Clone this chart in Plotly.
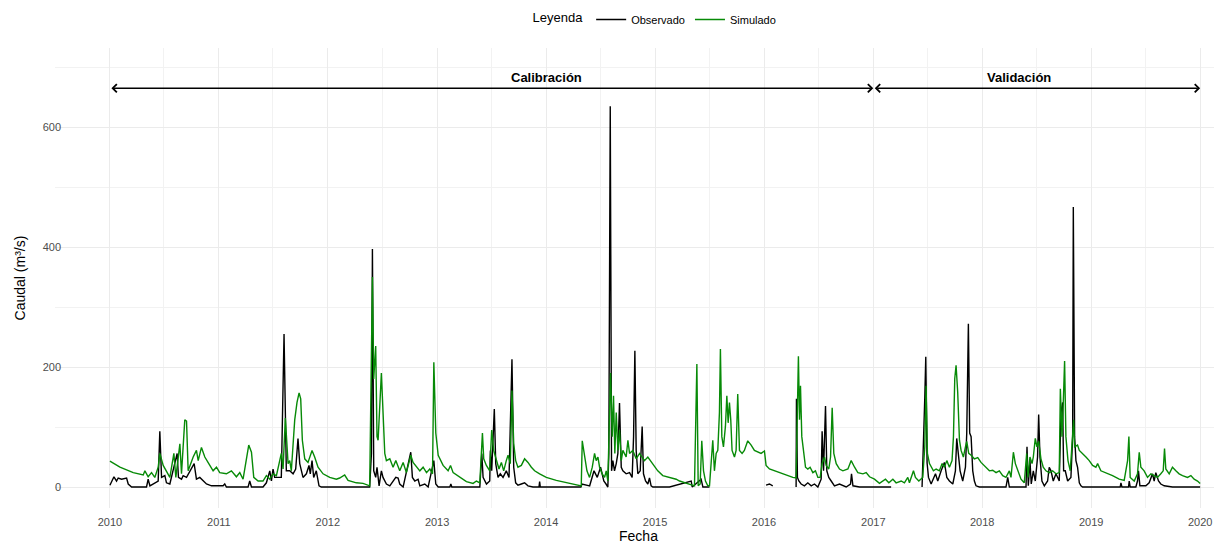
import pandas as pd
import plotly.graph_objects as go

# fechas en año decimal, caudales en m3/s (None = sin dato)
obs_t = [2010.00, 2010.015, 2010.037, 2010.061, 2010.076, 2010.107, 2010.153, 2010.168, 2010.199, 2010.336,
         2010.351, 2010.367, 2010.443, 2010.458, 2010.474, 2010.504, 2010.519, 2010.550, 2010.617, 2010.629,
         2010.657, 2010.672, 2010.703, 2010.773, 2010.794, 2010.825, 2010.855, 2010.886, 2010.932, 2011.039,
         2011.054, 2011.069, 2011.268, 2011.283, 2011.299, 2011.405, 2011.436, 2011.467, 2011.482, 2011.497,
         2011.512, 2011.573, 2011.598, 2011.619,
         2011.650, 2011.681, 2011.705, 2011.726, 2011.742, 2011.772, 2011.803, 2011.827, 2011.839, 2011.855,
         2011.870, 2011.894, 2011.919, 2011.940, 2012.383, 2012.399, 2012.408, 2012.420, 2012.438, 2012.450,
         2012.469, 2012.490, 2012.505, 2012.536, 2012.567, 2012.622, 2012.643, 2012.658, 2012.689, 2012.759,
         2012.774, 2012.796, 2012.826, 2012.842, 2012.887, 2012.918, 2012.970, 2012.988, 2013.010, 2013.117,
         2013.126, 2013.135, 2013.392, 2013.410, 2013.422, 2013.453, 2013.483,
         2013.489, 2013.501, 2013.525, 2013.538, 2013.559, 2013.580, 2013.605, 2013.635, 2013.660, 2013.687,
         2013.703, 2013.721, 2013.742, 2013.773, 2013.803, 2013.834, 2013.880, 2013.935, 2013.941, 2013.947,
         2014.320, 2014.330, 2014.400, 2014.440, 2014.470, 2014.500, 2014.530, 2014.550,
         2014.567, 2014.576, 2014.589, 2014.601, 2014.613, 2014.628, 2014.644, 2014.659, 2014.674, 2014.690,
         2014.705, 2014.735, 2014.766, 2014.790, 2014.803, 2014.815, 2014.827, 2014.842, 2014.864, 2014.882,
         2014.894, 2014.913, 2014.934, 2014.949, 2014.964, 2014.980,
         2015.133, 2015.332, 2015.341, 2015.423, 2015.439, 2015.500, 2015.505,
         2016.019, 2016.050, 2016.080, 2016.085,
         2016.294, 2016.297, 2016.306, 2016.319, 2016.340, 2016.370, 2016.401, 2016.432, 2016.462, 2016.493,
         2016.523, 2016.532, 2016.545, 2016.563, 2016.575, 2016.593, 2016.615, 2016.645, 2016.691, 2016.722,
         2016.752, 2016.792, 2016.801, 2016.814, 2016.874, 2017.164, 2017.170,
         2017.448, 2017.461, 2017.473, 2017.482, 2017.494, 2017.507, 2017.531, 2017.571, 2017.592, 2017.623,
         2017.653, 2017.675, 2017.699, 2017.730, 2017.754, 2017.766, 2017.778, 2017.797, 2017.821, 2017.846,
         2017.858, 2017.864, 2017.873, 2017.885, 2017.898, 2017.913, 2017.928, 2017.943, 2017.974, 2018.218,
         2018.234, 2018.249, 2018.402, 2018.411, 2018.423, 2018.438, 2018.450, 2018.469, 2018.487, 2018.508,
         2018.518, 2018.530, 2018.548, 2018.570, 2018.600, 2018.615, 2018.631, 2018.652, 2018.677, 2018.707,
         2018.723, 2018.738, 2018.747, 2018.762, 2018.784, 2018.814, 2018.830, 2018.836, 2018.848, 2018.860,
         2018.875, 2018.891, 2018.906, 2018.921, 2019.266, 2019.273, 2019.282, 2019.343, 2019.349, 2019.358,
         2019.410, 2019.425, 2019.434, 2019.447, 2019.502, 2019.532, 2019.563, 2019.578, 2019.593, 2019.618,
         2019.639, 2019.670, 2019.746, 2020.000]
obs_q = [3, 10, 17, 10, 15, 13, 15, 5, 0, 0,
         13, 2, 10, 93, 16, 19, 7, 5, 56, 16,
         13, 19, 16, 39, 13, 16, 10, 5, 2, 2,
         5, 0, 0, 10, 0, 0, 7, 27, 10, 30,
         16, 16, 255, 27,
         27, 22, 30, 81, 39, 16, 22, 36, 22, 44,
         16, 27, 2, 0, 0, 56, 397, 27, 16, 33,
         2, 27, 16, 5, 2, 16, 15, 5, 0, 58,
         16, 10, 13, 2, 5, 0, 44, 5, 0, 0,
         5, 0, 0, 56, 16, 5, 10,
         61, 27, 130, 39, 16, 22, 16, 27, 16, 213,
         33, 7, 3, 5, 7, 2, 0, 0, 9, 0,
         0, 5, 2, 27, 16, 33, 10, 5,
         0, 56, 635, 27, 44, 27, 39, 56, 140, 33,
         27, 22, 24, 16, 84, 227, 61, 22, 27, 101,
         22, 10, 5, 15, 2, 0,
         0, 10, 0, 13, 0, 0, None,
         3, 5, 2, None,
         0, 147, 16, 10, 5, 2, 7, 2, 5, 0,
         13, 93, 27, 135, 27, 16, 10, 2, 5, 2,
         0, 5, 22, 2, 0, 0, None,
         0, 67, 150, 217, 40, 16, 5, 22, 10, 27,
         41, 16, 10, 5, 27, 81, 61, 27, 10, 33,
         90, 185, 272, 90, 84, 27, 10, 2, 0, 0,
         16, 0, 0, 67, 2, 44, 5, 27, 10, 50,
         121, 50, 10, 2, 10, 33, 27, 10, 22, 10,
         124, 141, 27, 27, 10, 16, 84, 467, 84, 44,
         33, 7, 2, 0, 0, 7, 0, 0, 10, 0,
         0, 10, 27, 2, 2, 7, 22, 10, 24, 10,
         5, 2, 0, 0]

sim_t = [2010.00, 2010.092, 2010.214, 2010.306, 2010.321, 2010.351, 2010.382, 2010.412, 2010.443, 2010.458,
         2010.489, 2010.519, 2010.550, 2010.587, 2010.605, 2010.642, 2010.657, 2010.687, 2010.703, 2010.718,
         2010.764, 2010.794, 2010.810, 2010.840, 2010.871, 2010.917, 2010.947, 2010.978, 2011.008, 2011.069,
         2011.115, 2011.161, 2011.192, 2011.222, 2011.274, 2011.299, 2011.320, 2011.360, 2011.405, 2011.436,
         2011.467, 2011.497, 2011.528, 2011.573, 2011.589, 2011.610, 2011.635,
         2011.650, 2011.665, 2011.696, 2011.717, 2011.736, 2011.751, 2011.766, 2011.788, 2011.818, 2011.855,
         2011.879, 2011.910, 2011.956, 2012.017, 2012.078, 2012.108, 2012.154, 2012.185, 2012.261, 2012.322,
         2012.383, 2012.408, 2012.420, 2012.438, 2012.450, 2012.460, 2012.490, 2012.521, 2012.536, 2012.567,
         2012.597, 2012.622, 2012.658, 2012.689, 2012.719, 2012.759, 2012.780, 2012.811, 2012.842, 2012.872,
         2012.903, 2012.933, 2012.958, 2012.970, 2012.988, 2013.010, 2013.055, 2013.101, 2013.123, 2013.147,
         2013.208, 2013.269, 2013.330, 2013.361, 2013.392, 2013.416, 2013.428, 2013.452, 2013.483,
         2013.501, 2013.519, 2013.544, 2013.568, 2013.590, 2013.611, 2013.635, 2013.651, 2013.672, 2013.687,
         2013.703, 2013.721, 2013.742, 2013.773, 2013.803, 2013.834, 2013.865, 2013.895, 2013.941, 2014.002,
         2014.094, 2014.185, 2014.277, 2014.323, 2014.332, 2014.353, 2014.375, 2014.399, 2014.424, 2014.445,
         2014.460, 2014.476, 2014.491, 2014.515, 2014.537, 2014.552, 2014.567, 2014.592, 2014.607, 2014.619,
         2014.631, 2014.644, 2014.659, 2014.674, 2014.690, 2014.705, 2014.735, 2014.751, 2014.766, 2014.796,
         2014.827, 2014.858, 2014.903, 2014.934, 2014.980, 2015.025, 2015.071, 2015.133, 2015.194,
         2015.225, 2015.316, 2015.362, 2015.384, 2015.396, 2015.414, 2015.429, 2015.445, 2015.463, 2015.484,
         2015.500, 2015.530, 2015.545, 2015.561, 2015.576, 2015.591, 2015.600, 2015.613, 2015.628, 2015.646,
         2015.659, 2015.671, 2015.683, 2015.695, 2015.707, 2015.729, 2015.744, 2015.759, 2015.775, 2015.799,
         2015.820, 2015.851, 2015.882, 2015.912, 2015.943, 2015.973, 2016.004, 2016.019, 2016.050, 2016.095,
         2016.141, 2016.202, 2016.264, 2016.294, 2016.306, 2016.315, 2016.325, 2016.334, 2016.346, 2016.361,
         2016.380, 2016.401, 2016.422, 2016.447, 2016.471, 2016.493, 2016.514, 2016.532, 2016.554, 2016.569,
         2016.593, 2016.609, 2016.624, 2016.639, 2016.661, 2016.691, 2016.722, 2016.768, 2016.798, 2016.829,
         2016.859, 2016.905, 2016.935, 2016.966, 2017.011, 2017.057, 2017.094, 2017.112, 2017.143, 2017.180,
         2017.210, 2017.256, 2017.286, 2017.317, 2017.332, 2017.369, 2017.387, 2017.418, 2017.454, 2017.473,
         2017.485, 2017.497, 2017.516, 2017.531, 2017.552, 2017.577, 2017.607, 2017.632, 2017.653, 2017.675,
         2017.699, 2017.723, 2017.736, 2017.748, 2017.760, 2017.775, 2017.791, 2017.806, 2017.827, 2017.846,
         2017.858, 2017.876, 2017.898, 2017.928, 2017.959, 2017.989, 2018.020, 2018.066, 2018.096, 2018.127,
         2018.157, 2018.188, 2018.218, 2018.249, 2018.264, 2018.286, 2018.304, 2018.325, 2018.356, 2018.386,
         2018.408, 2018.420, 2018.438, 2018.457, 2018.469, 2018.487, 2018.502, 2018.518, 2018.539, 2018.560,
         2018.585, 2018.615, 2018.646, 2018.677, 2018.707, 2018.717, 2018.732, 2018.744, 2018.756, 2018.768,
         2018.787, 2018.808, 2018.830, 2018.839, 2018.848, 2018.875, 2018.891, 2018.921, 2018.952, 2018.982,
         2019.013, 2019.043, 2019.059, 2019.089, 2019.135, 2019.196, 2019.257, 2019.303, 2019.334, 2019.346,
         2019.358, 2019.395, 2019.425, 2019.441, 2019.456, 2019.486, 2019.517, 2019.548, 2019.578, 2019.609,
         2019.639, 2019.661, 2019.673, 2019.685, 2019.716, 2019.746, 2019.777, 2019.807, 2019.838, 2019.884,
         2019.915, 2019.945, 2019.976, 2020.000]
sim_q = [43, 33, 24, 20, 27, 17, 24, 16, 33, 56,
         36, 27, 16, 56, 16, 72, 22, 112, 110, 27,
         50, 61, 44, 66, 50, 36, 27, 33, 24, 22,
         27, 17, 24, 13, 70, 58, 16, 10, 10, 19,
         13, 22, 19, 56, 30, 115, 39,
         44, 27, 112, 141, 157, 147, 78, 47, 41, 61,
         50, 33, 22, 16, 13, 15, 20, 11, 7, 6,
         2, 350, 180, 235, 84, 78, 190, 56, 44, 47,
         33, 44, 27, 41, 24, 53, 41, 33, 27, 33,
         24, 30, 22, 208, 90, 53, 36, 27, 36, 24,
         16, 9, 6, 10, 7, 90, 47, 36, 27,
         95, 61, 44, 30, 41, 27, 44, 53, 39, 161,
         73, 44, 33, 36, 47, 41, 33, 27, 22, 16,
         11, 7, 3, 2, 77, 50, 27, 16, 33, 56,
         44, 50, 33, 22, 16, 27, 10, 190, 84, 152,
         56, 124, 61, 95, 44, 61, 50, 78, 56, 61,
         47, 56, 44, 50, 39, 27, 19, 16, 13,
         10, 5, 2, 205, 2, 5, 77, 27, 10, 2,
         2, 78, 27, 56, 61, 124, 230, 84, 67, 101,
         152, 107, 141, 112, 61, 50, 61, 155, 61, 56,
         61, 77, 70, 61, 58, 56, 60, 36, 30, 27,
         23, 19, 16, 15, 118, 218, 112, 169, 84, 61,
         33, 30, 33, 24, 27, 16, 16, 39, 50, 36,
         30, 50, 132, 56, 39, 30, 27, 30, 44, 33,
         24, 22, 24, 17, 13, 6, 10, 13, 7, 13,
         7, 10, 7, 16, 7, 27, 16, 10, 16, 67,
         169, 56, 39, 33, 27, 30, 27, 39, 33, 44,
         33, 44, 84, 181, 203, 158, 78, 61, 50, 67,
         76, 56, 53, 47, 49, 41, 36, 27, 28, 24,
         27, 19, 16, 27, 16, 58, 39, 27, 13, 7,
         56, 16, 50, 39, 50, 81, 67, 76, 47, 33,
         27, 24, 27, 22, 24, 164, 84, 141, 210, 84,
         44, 27, 84, 112, 67, 70, 61, 56, 50, 44,
         36, 33, 39, 27, 24, 19, 13, 11, 44, 84,
         16, 10, 22, 58, 33, 27, 16, 22, 19, 16,
         22, 27, 64, 30, 22, 33, 27, 22, 19, 16,
         19, 13, 10, 6]

periodos = ["Calibración", "Validación"]
periodo_ini = ["2010-01-01", "2017-01-01"]
periodo_fin = ["2017-01-01", "2020-01-01"]
periodo_txt_x = ["2014-01-01", "2018-05-05"]


def to_date(y):
    year = int(y)
    start = pd.Timestamp(year=year, month=1, day=1)
    days = (pd.Timestamp(year=year + 1, month=1, day=1) - start).days
    return start + pd.Timedelta(days=(y - year) * days)


obs_x = [to_date(t) for t in obs_t]
sim_x = [to_date(t) for t in sim_t]

fig = go.Figure()
fig.add_trace(go.Scatter(x=obs_x, y=obs_q, mode="lines", name="Observado",
                         line=dict(color="black", width=1.4)))
fig.add_trace(go.Scatter(x=sim_x, y=sim_q, mode="lines", name="Simulado",
                         line=dict(color="#078a07", width=1.4)))

for nombre, ini, fin, tx in zip(periodos, periodo_ini, periodo_fin, periodo_txt_x):
    fig.add_annotation(x=fin, y=665, ax=ini, ay=665, xref="x", yref="y", axref="x", ayref="y",
                       text="", showarrow=True, arrowside="end+start", arrowhead=4,
                       startarrowhead=4, arrowsize=1, startarrowsize=1, arrowwidth=1.6,
                       arrowcolor="black")
    fig.add_annotation(x=tx, y=683, xref="x", yref="y", text="<b>" + nombre + "</b>",
                       showarrow=False, font=dict(size=13, color="black"))

# la página tiene 8 px de margen en el body: se compensa en tamaño y márgenes
fig.update_layout(
    width=1214, height=536,
    margin=dict(l=47, r=0, t=40, b=36, autoexpand=False),
    plot_bgcolor="white", paper_bgcolor="white",
    font=dict(family="Liberation Sans, Arial, sans-serif", color="black"),
    legend=dict(orientation="h", x=0.515, xanchor="center", y=1.062, yanchor="middle",
                title=dict(text="Leyenda", font=dict(size=13)), font=dict(size=11),
                itemwidth=30),
    xaxis=dict(
        type="date", range=[to_date(2009.496), to_date(2020.2)],
        dtick="M12", tick0="2010-01-01", tickformat="%Y",
        showgrid=True, gridcolor="#ebebeb", gridwidth=1.1,
        minor=dict(dtick="M6", tick0="2010-01-01", showgrid=True, gridcolor="#f2f2f2", gridwidth=0.8),
        zeroline=False, showline=False, ticks="outside", ticklen=4, tickcolor="rgba(0,0,0,0)",
        tickfont=dict(size=11, color="#4d4d4d"),
        title=dict(text="Fecha", font=dict(size=14), standoff=6),
        automargin=False,
    ),
    yaxis=dict(
        range=[-35, 732], tickvals=[0, 200, 400, 600],
        showgrid=True, gridcolor="#ebebeb", gridwidth=1.1,
        minor=dict(tickvals=[100, 300, 500, 700], showgrid=True, gridcolor="#f2f2f2", gridwidth=0.8),
        zeroline=False, showline=False, ticks="",
        ticklabelstandoff=-7,
        tickfont=dict(size=11, color="#4d4d4d"),
        title=dict(text="Caudal (m³/s)", font=dict(size=14), standoff=13),
        automargin=False,
    ),
)

fig.write_html("out.html")
